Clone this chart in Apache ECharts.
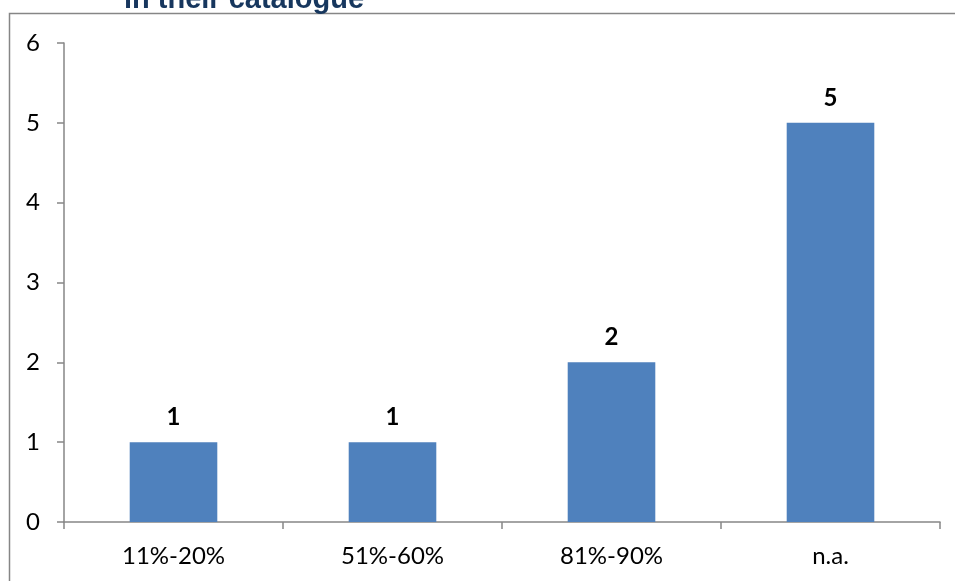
<!DOCTYPE html>
<html><head><meta charset="utf-8">
<script src="https://cdn.jsdelivr.net/npm/echarts@6/dist/echarts.min.js"></script>
<style>html,body{margin:0;padding:0;background:#fff}#c{width:955px;height:581px}</style>
</head><body><div id="c"></div>
<script>
const categories = ['11%-20%', '51%-60%', '81%-90%', 'n.a.'];
const values = [1, 1, 2, 5];
const titleText = 'in their catalogue';

const chart = echarts.init(document.getElementById('c'));
chart.setOption({
  animation: false,
  backgroundColor: '#fff',
  graphic: [
    {type: 'rect', shape: {x: 9.5, y: 13.5, width: 960, height: 600}, style: {fill: 'none', stroke: '#868686', lineWidth: 1.5}, z: 0},
    {type: 'text', x: 244, y: 14, style: {text: titleText, font: 'bold 29px "Liberation Sans", Arial', fill: '#17375E', textAlign: 'center', textVerticalAlign: 'bottom'}, z: 10}
  ],
  grid: {left: 64, top: 43, right: 15, bottom: 59},
  xAxis: {
    type: 'category', data: categories,
    axisLine: {lineStyle: {color: '#868686', width: 1.5}},
    axisTick: {show: true, length: 7, alignWithLabel: false, lineStyle: {color: '#868686', width: 1.5}},
    axisLabel: {margin: 22, fontSize: 24, color: '#000', fontFamily: 'Lato'}
  },
  yAxis: {
    type: 'value', min: 0, max: 6, interval: 1,
    axisLine: {show: true, lineStyle: {color: '#868686', width: 1.5}},
    axisTick: {show: true, length: 7, lineStyle: {color: '#868686', width: 1.5}},
    splitLine: {show: false},
    axisLabel: {margin: 24, fontSize: 24, color: '#000', fontFamily: 'Lato'}
  },
  series: [{
    type: 'bar', data: values, barCategoryGap: '60%',
    itemStyle: {color: '#4F81BD'},
    label: {show: true, position: 'top', distance: 13, fontSize: 24, fontWeight: 'bold', color: '#000', fontFamily: 'Lato'}
  }]
});
</script></body></html>
